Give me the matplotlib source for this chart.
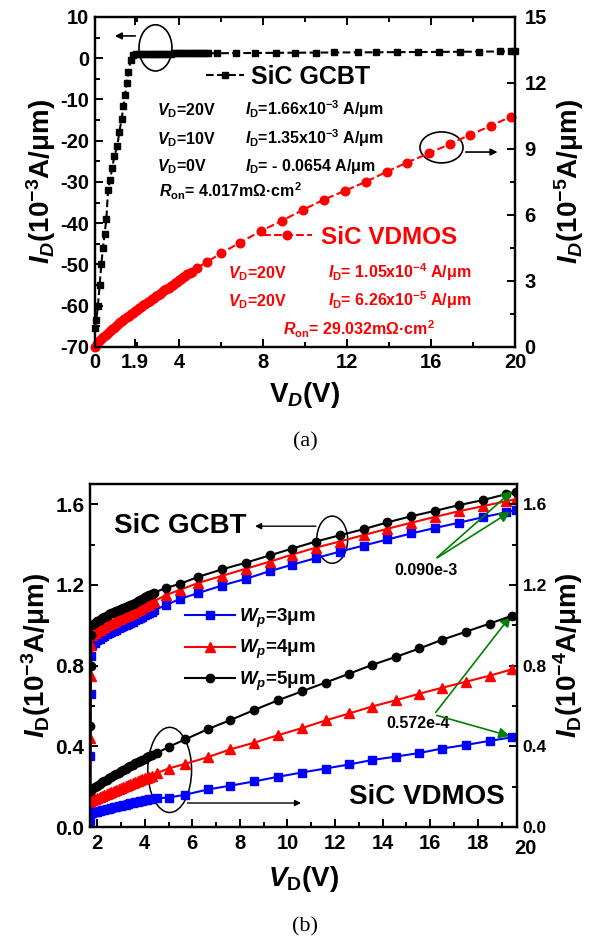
import numpy as np
import matplotlib
matplotlib.use("Agg")
import matplotlib.pyplot as plt
from matplotlib.patches import Ellipse
from matplotlib.transforms import blended_transform_factory

plt.rcParams['font.family'] = ['Liberation Sans', 'DejaVu Sans']
plt.rcParams['font.weight'] = 'bold'
plt.rcParams['axes.labelweight'] = 'bold'
plt.rcParams['mathtext.fontset'] = 'custom'
plt.rcParams['mathtext.rm'] = 'Liberation Sans:bold'
plt.rcParams['mathtext.it'] = 'Liberation Sans:italic:bold'
plt.rcParams['mathtext.bf'] = 'Liberation Sans:bold'
plt.rcParams['axes.unicode_minus'] = False
plt.rcParams['axes.linewidth'] = 1.6
plt.rcParams['xtick.direction'] = 'in'
plt.rcParams['ytick.direction'] = 'in'

# ---- panel (a) data ----
gcbt_v = [0.00, 0.06, 0.14, 0.22, 0.30, 0.38, 0.46, 0.54, 0.62, 0.72, 0.82, 0.92,
          1.06, 1.16, 1.27, 1.35, 1.43, 1.51, 1.59, 1.70, 1.83,
          1.95, 2.10, 2.25, 2.40, 2.55, 2.70, 2.85, 3.00, 3.15, 3.30, 3.45, 3.60,
          3.75, 3.90, 4.05, 4.20, 4.35, 4.50, 4.65, 4.80, 4.95, 5.10, 5.25, 5.40,
          5.8, 6.7, 7.6, 8.6, 9.5, 10.5, 11.4, 12.5, 13.4, 14.4, 15.4, 16.4,
          17.4, 18.3, 19.3, 19.8, 20.0]
gcbt_i = [-65.4, -63.5, -60.0, -55.0, -50.0, -46.0, -42.5, -39.0, -32.0, -29.5, -26.5, -23.8,
          -21.3, -17.8, -14.7, -11.7, -8.9, -6.1, -3.3, -0.4, 0.8,
          0.95, 1.00, 1.03, 1.05, 1.07, 1.08, 1.09, 1.10, 1.11, 1.12, 1.13, 1.14,
          1.15, 1.155, 1.16, 1.165, 1.17, 1.175, 1.18, 1.185, 1.19, 1.195, 1.20, 1.205,
          1.21, 1.24, 1.27, 1.30, 1.33, 1.36, 1.385, 1.415, 1.44, 1.47, 1.50, 1.53,
          1.56, 1.59, 1.63, 1.65, 1.66]

vdmos_v = [0.0, 0.1, 0.2, 0.3, 0.4, 0.5, 0.6, 0.7, 0.8, 0.9, 1.0, 1.1, 1.2, 1.3,
           1.4, 1.5, 1.6, 1.7, 1.8, 1.9, 2.0, 2.1, 2.2, 2.3, 2.4, 2.5, 2.6, 2.7,
           2.8, 2.9, 3.0, 3.1, 3.2, 3.3, 3.4, 3.5, 3.6, 3.7, 3.8, 3.9, 4.0, 4.1,
           4.2, 4.3, 4.4, 4.5, 4.6,
           4.85, 5.35, 6.0, 6.9, 7.9, 8.9, 9.9, 10.9, 11.9, 12.9, 13.9, 14.85,
           15.9, 16.9, 17.85, 18.85, 19.8]
vdmos_i = [0.02, 0.14, 0.25, 0.35, 0.45, 0.54, 0.63, 0.72, 0.80, 0.88, 0.96, 1.04,
           1.12, 1.20, 1.27, 1.34, 1.41, 1.48, 1.55, 1.62, 1.69, 1.76, 1.83, 1.90,
           1.97, 2.04, 2.10, 2.17, 2.23, 2.30, 2.36, 2.43, 2.50, 2.57, 2.63, 2.70,
           2.76, 2.83, 2.90, 2.97, 3.03, 3.10, 3.16, 3.23, 3.30, 3.36, 3.42,
           3.58, 3.88, 4.26, 4.74, 5.27, 5.74, 6.23, 6.70, 7.10, 7.51, 7.97, 8.38,
           8.80, 9.23, 9.64, 10.05, 10.47]

# ---- panel (b) data ----
gv = [1.71, 1.72, 1.73, 1.75,
      1.8, 1.9, 2.0, 2.1, 2.2, 2.3, 2.4, 2.5, 2.6, 2.7, 2.8, 2.9, 3.0, 3.1, 3.2,
      3.3, 3.4, 3.5, 3.6, 3.7, 3.8, 3.9, 4.0, 4.1, 4.2, 4.3, 4.4,
      4.9, 5.47, 6.26, 7.25, 8.25, 9.25, 10.2, 11.2, 12.2, 13.2, 14.2,
      15.2, 16.2, 17.2, 18.2, 19.2, 19.6]
gcbt3 = [0.03, 0.35, 0.66, 0.85,
         0.900, 0.913, 0.925, 0.933, 0.940, 0.948, 0.955, 0.960, 0.965, 0.972, 0.978,
         0.984, 0.990, 0.995, 1.000, 1.006, 1.012, 1.018, 1.025, 1.031, 1.037, 1.043,
         1.050, 1.056, 1.062, 1.068, 1.075,
         1.10, 1.13, 1.16, 1.197, 1.23, 1.268, 1.30, 1.333, 1.365, 1.395, 1.425, 1.455,
         1.482, 1.508, 1.535, 1.56, 1.572]
gcbt4 = [0.12, 0.44, 0.75, 0.90,
         0.950, 0.960, 0.970, 0.978, 0.985, 0.993, 1.000, 1.006, 1.012, 1.018, 1.024,
         1.030, 1.035, 1.040, 1.046, 1.052, 1.057, 1.063, 1.070, 1.076, 1.082, 1.088,
         1.095, 1.101, 1.107, 1.113, 1.120,
         1.15, 1.175, 1.21, 1.245, 1.28, 1.315, 1.35, 1.385, 1.415, 1.447, 1.478, 1.508,
         1.537, 1.565, 1.59, 1.615, 1.625]
gcbt5 = [0.17, 0.50, 0.80, 0.95,
         1.000, 1.010, 1.020, 1.028, 1.035, 1.042, 1.048, 1.054, 1.060, 1.065, 1.070,
         1.075, 1.080, 1.085, 1.090, 1.095, 1.100, 1.106, 1.112, 1.118, 1.125, 1.131,
         1.138, 1.144, 1.150, 1.156, 1.162,
         1.185, 1.205, 1.24, 1.277, 1.31, 1.346, 1.38, 1.415, 1.446, 1.476, 1.51, 1.54,
         1.567, 1.595, 1.62, 1.65, 1.66]

vd_v = [1.7, 1.8, 1.9, 2.0, 2.1, 2.2, 2.3, 2.4, 2.5, 2.6, 2.7, 2.8, 2.9, 3.0,
        3.1, 3.2, 3.3, 3.4, 3.5, 3.6, 3.7, 3.8, 3.9, 4.0, 4.1, 4.2, 4.3,
        4.5, 5.0, 5.7, 6.65, 7.6, 8.6, 9.6, 10.6, 11.6, 12.6, 13.55, 14.55,
        15.55, 16.5, 17.5, 18.5, 19.45]
vd3 = [0.065, 0.069, 0.072, 0.076, 0.079, 0.082, 0.085, 0.088, 0.091, 0.094, 0.097,
       0.100, 0.103, 0.106, 0.109, 0.111, 0.114, 0.117, 0.120, 0.122, 0.125, 0.128,
       0.131, 0.133, 0.135, 0.137, 0.139,
       0.142, 0.146, 0.16, 0.186, 0.205, 0.226, 0.249, 0.27, 0.29, 0.31, 0.332, 0.349,
       0.367, 0.389, 0.407, 0.427, 0.445]
vd4 = [0.130, 0.135, 0.140, 0.145, 0.150, 0.155, 0.160, 0.165, 0.170, 0.175, 0.180,
       0.185, 0.190, 0.195, 0.200, 0.205, 0.209, 0.214, 0.218, 0.223, 0.227, 0.232,
       0.236, 0.241, 0.245, 0.250, 0.254,
       0.267, 0.29, 0.313, 0.346, 0.385, 0.418, 0.455, 0.49, 0.528, 0.563, 0.597, 0.628,
       0.661, 0.69, 0.72, 0.75, 0.782]
vd5 = [0.180, 0.189, 0.197, 0.205, 0.213, 0.221, 0.228, 0.235, 0.242, 0.249, 0.256,
       0.263, 0.270, 0.277, 0.283, 0.290, 0.296, 0.303, 0.309, 0.315, 0.321, 0.327,
       0.333, 0.339, 0.345, 0.351, 0.356,
       0.365, 0.397, 0.434, 0.485, 0.53, 0.58, 0.628, 0.672, 0.716, 0.76, 0.803, 0.843,
       0.885, 0.928, 0.968, 1.008, 1.048]

fig = plt.figure(figsize=(5.89, 9.47), dpi=100)

# ================= (a) =================
axA = fig.add_axes([0.1613, 0.6336, 0.7131, 0.3485])
axA2 = axA.twinx()

lg, = axA.plot(gcbt_v, gcbt_i, ls='--', color='black', lw=1.5, marker='s', ms=5,
               mec='black', mfc='black', clip_on=False)
lv, = axA2.plot(vdmos_v, vdmos_i, ls='--', color='red', lw=1.5, marker='o', ms=6.2,
                mec='red', mfc='red', clip_on=False)

axA.set_xlim(0, 20)
axA.set_ylim(-70, 10)
axA2.set_ylim(0, 15)
axA.set_xticks([0, 1.9, 4, 8, 12, 16, 20])
axA.set_xticklabels(['0', '1.9', '4', '8', '12', '16', '20'])
axA.set_xticks([2, 6, 10, 14, 18], minor=True)
axA.set_yticks(np.arange(-70, 11, 10))
axA.set_yticks(np.arange(-65, 10, 10), minor=True)
axA2.set_yticks(np.arange(0, 16, 3))
axA2.set_yticks(np.arange(1.5, 15, 3), minor=True)
axA.tick_params(which='both', top=True, width=1.4, labelsize=14.5, pad=4)
axA.tick_params(which='major', length=6)
axA.tick_params(which='minor', length=3.5)
axA2.tick_params(which='both', width=1.4, labelsize=14.5, pad=7)
axA2.tick_params(which='major', length=6)
axA2.tick_params(which='minor', length=3.5)

axA.set_xlabel(r'$\mathrm{V}_D$(V)', fontsize=20, labelpad=6)
axA.set_ylabel(r'$I_D$(10$^{-3}$A/μm)', fontsize=20, labelpad=2)
axA2.set_ylabel(r'$I_D$(10$^{-5}$A/μm)', fontsize=20, labelpad=4)

axA.legend([lg], ['SiC GCBT'], loc='center left', bbox_to_anchor=(0.265, 0.818),
           frameon=False, fontsize=18, handlelength=1.5, handletextpad=0.3,
           borderaxespad=0, borderpad=0, numpoints=1)
axA2.legend([lv], ['SiC VDMOS'], loc='center left', bbox_to_anchor=(0.40, 0.333),
            frameon=False, fontsize=17.5, handlelength=2.0, handletextpad=0.4,
            borderaxespad=0, borderpad=0, numpoints=1, labelcolor='red')

fs = 11.5
axA.text(2.95, -13.8, r'$V_\mathrm{D}$=20V', fontsize=fs)
axA.text(7.14, -13.8, r'$I_\mathrm{D}$=1.66x10$^{-3}$ A/μm', fontsize=fs)
axA.text(2.95, -20.8, r'$V_\mathrm{D}$=10V', fontsize=fs)
axA.text(7.14, -20.8, r'$I_\mathrm{D}$=1.35x10$^{-3}$ A/μm', fontsize=fs)
axA.text(2.95, -27.3, r'$V_\mathrm{D}$=0V', fontsize=fs)
axA.text(7.14, -27.3, r'$I_\mathrm{D}$= - 0.0654 A/μm', fontsize=fs)
axA.text(3.05, -33.6, r'$R_\mathrm{on}$= 4.017mΩ·cm$^2$', fontsize=fs)

axA.text(6.33, -53.3, r'$V_\mathrm{D}$=20V', fontsize=fs, color='red')
axA.text(11.1, -53.3, r'$I_\mathrm{D}$= 1.05x10$^{-4}$ A/μm', fontsize=fs, color='red')
axA.text(6.33, -60.1, r'$V_\mathrm{D}$=20V', fontsize=fs, color='red')
axA.text(11.1, -60.1, r'$I_\mathrm{D}$= 6.26x10$^{-5}$ A/μm', fontsize=fs, color='red')
axA.text(8.95, -67.1, r'$R_\mathrm{on}$= 29.032mΩ·cm$^2$', fontsize=fs, color='red')

axA.add_patch(Ellipse((2.88, 2.5), 1.57, 11.2, fill=False, ec='black', lw=1.2))
axA.annotate('', xy=(0.81, 5.4), xytext=(2.05, 5.4),
             arrowprops=dict(arrowstyle='-|>', color='black', lw=1.2, mutation_scale=10))
axA2.add_patch(Ellipse((16.5, 9.07), 2.05, 1.41, fill=False, ec='black', lw=1.2))
axA2.annotate('', xy=(19.3, 8.86), xytext=(17.52, 8.86),
              arrowprops=dict(arrowstyle='-|>', color='black', lw=1.2, mutation_scale=10))

fig.text(305 / 589, 1 - 442 / 947, '(a)', ha='center', va='center', fontsize=16,
         family='Liberation Serif', weight='normal')

# ================= (b) =================
axB = fig.add_axes([0.1528, 0.1267, 0.7250, 0.3622])
axB2 = axB.twinx()

l3, = axB.plot(gv, gcbt3, '-', color='blue', lw=1.5, marker='s', ms=5.2)
l4, = axB.plot(gv, gcbt4, '-', color='red', lw=1.5, marker='^', ms=6.5)
l5, = axB.plot(gv, gcbt5, '-', color='black', lw=1.5, marker='o', ms=6)
axB2.plot(vd_v, vd3, '-', color='blue', lw=1.5, marker='s', ms=5.2)
axB2.plot(vd_v, vd4, '-', color='red', lw=1.5, marker='^', ms=6.5)
axB2.plot(vd_v, vd5, '-', color='black', lw=1.5, marker='o', ms=6)

axB.set_xlim(1.7, 19.65)
axB.set_ylim(0, 1.7)
axB2.set_ylim(0, 1.7)
axB.set_xticks(np.arange(2, 19, 2))
axB.set_xticks(np.arange(3, 20, 2), minor=True)
yt = [0.0, 0.4, 0.8, 1.2, 1.6]
axB.set_yticks(yt)
axB.set_yticklabels(['0.0', '0.4', '0.8', '1.2', '1.6'])
axB.set_yticks([0.2, 0.6, 1.0, 1.4], minor=True)
axB2.set_yticks(yt)
axB2.set_yticklabels(['0.0', '0.4', '0.8', '1.2', '1.6'])
axB2.set_yticks([0.2, 0.6, 1.0, 1.4], minor=True)
axB.tick_params(which='both', width=1.4, pad=4)
axB.tick_params(axis='y', labelsize=15)
axB.tick_params(axis='x', labelsize=14.5, pad=5)
axB.tick_params(which='major', length=6)
axB.tick_params(which='minor', length=3.5)
axB2.tick_params(which='both', width=1.4, labelsize=12.5, pad=4)
axB2.tick_params(which='major', length=6)
axB2.tick_params(which='minor', length=3.5)
tr = blended_transform_factory(axB.transData, axB.transAxes)
axB.text(20, -0.035, '20', transform=tr, ha='center', va='top', fontsize=14.5)

axB.set_xlabel(r'$V_\mathrm{D}$(V)', fontsize=20, labelpad=8)
axB.set_ylabel(r'$I_\mathrm{D}$(10$^{-3}$A/μm)', fontsize=20, labelpad=2)
axB2.set_ylabel(r'$I_\mathrm{D}$(10$^{-4}$A/μm)', fontsize=20, labelpad=3)

axB.legend([l3, l4, l5], [r'$W_p$=3μm', r'$W_p$=4μm', r'$W_p$=5μm'],
           loc='upper left', bbox_to_anchor=(0.222, 0.643), frameon=False,
           fontsize=13.5, handlelength=2.7, handletextpad=0.2, labelspacing=0.45,
           borderaxespad=0, borderpad=0, numpoints=1)

axB.text(5.51, 1.491, 'SiC GCBT', fontsize=20, ha='center', va='center')
axB.text(15.87, 0.149, 'SiC VDMOS', fontsize=20, ha='center', va='center')

axB.add_patch(Ellipse((11.88, 1.424), 1.3, 0.234, fill=False, ec='black', lw=1.1))
axB.annotate('', xy=(8.52, 1.491), xytext=(11.31, 1.491),
             arrowprops=dict(arrowstyle='-|>', color='black', lw=1.0, mutation_scale=9))
axB.add_patch(Ellipse((5.05, 0.283), 1.84, 0.422, fill=False, ec='black', lw=1.1))
axB.annotate('', xy=(10.69, 0.119), xytext=(5.68, 0.119),
             arrowprops=dict(arrowstyle='-|>', color='black', lw=1.0, mutation_scale=9))

green = '#008000'
axB.text(15.83, 1.272, '0.090e-3', fontsize=11.5, ha='center', va='center')
for tgt in [(19.54, 1.675), (19.46, 1.570)]:
    axB.annotate('', xy=tgt, xytext=(16.2, 1.327), annotation_clip=False,
                 arrowprops=dict(arrowstyle='-|>', color=green, lw=1.2, mutation_scale=16))
axB.text(15.49, 0.512, '0.572e-4', fontsize=11.5, ha='center', va='center')
for tgt in [(19.46, 1.058), (19.46, 0.447)]:
    axB.annotate('', xy=tgt, xytext=(16.16, 0.557), annotation_clip=False,
                 arrowprops=dict(arrowstyle='-|>', color=green, lw=1.2, mutation_scale=16))

fig.text(305 / 589, 1 - 927 / 947, '(b)', ha='center', va='center', fontsize=16,
         family='Liberation Serif', weight='normal')

fig.savefig('out.png', dpi=100)
